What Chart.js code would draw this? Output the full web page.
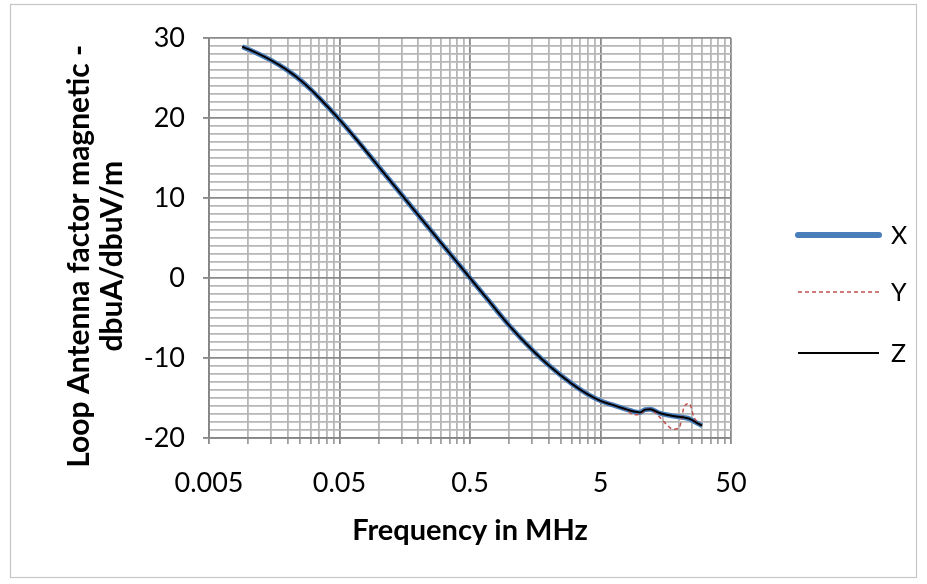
<!DOCTYPE html>
<html><head><meta charset="utf-8">
<script src="https://cdn.jsdelivr.net/npm/chart.js@4.4.0/dist/chart.umd.min.js"></script>
<style>html,body{margin:0;padding:0;background:#fff}#wrap{position:relative;width:927px;height:584px}</style>
</head><body><div id="wrap"><canvas id="c" width="927" height="584"></canvas></div>
<script>
// ---- data ----
const freqMHz = [0.009,0.01,0.015,0.02,0.025,0.03,0.035,0.05,0.07,0.1,0.15,0.2,0.3,0.5,0.7,1,1.5,2,3,4,5,6,7,8,9,10,11,12,14,16,18,20,22,24,26,28,30];
const seriesX = [28.9,28.6,27.2,25.95,24.75,23.6,22.5,19.8,17.0,13.9,10.4,7.9,4.4,0,-2.9,-5.95,-9.0,-10.9,-13.2,-14.55,-15.35,-15.8,-16.15,-16.45,-16.7,-16.8,-16.45,-16.4,-16.85,-17.1,-17.25,-17.35,-17.45,-17.6,-17.9,-18.2,-18.45];
const seriesY = [28.9,28.6,27.2,25.95,24.75,23.6,22.5,19.8,17.0,13.9,10.4,7.9,4.4,0,-2.9,-5.95,-9.0,-10.9,-13.2,-14.55,-15.35,-15.8,-16.15,-16.6,-17.1,-17.05,-16.5,-16.4,-17.3,-18.3,-18.9,-18.75,-16.0,-15.7,-17.4,-18.1,-18.45];
const seriesZ = [28.9,28.6,27.2,25.95,24.75,23.6,22.5,19.8,17.0,13.9,10.4,7.9,4.4,0,-2.9,-5.95,-9.0,-10.9,-13.2,-14.55,-15.35,-15.8,-16.15,-16.45,-16.7,-16.8,-16.45,-16.4,-16.85,-17.1,-17.25,-17.35,-17.45,-17.6,-17.9,-18.2,-18.45];
const seriesNames = ['X','Y','Z'];
const xMajorTicks = [0.005,0.05,0.5,5,50];
const xTickLabels = ['0.005','0.05','0.5','5','50'];
const yMajorTicks = [-20,-10,0,10,20,30];
const xTitle = 'Frequency in MHz';
const yTitle = ['Loop Antenna factor magnetic -','dbuA/dbuV/m'];

// ---- tick sets (major + minor) ----
const xTicks = [], xIsMajor = [], xLabel = [];
xMajorTicks.forEach((m,i)=>{
  xTicks.push(m); xIsMajor.push(true); xLabel.push(xTickLabels[i]);
  if(i<xMajorTicks.length-1){ for(let k=2;k<=9;k++){ xTicks.push(m*k); xIsMajor.push(false); xLabel.push(''); } }
});
const yTicks = [];
for(let v=yMajorTicks[0]; v<=yMajorTicks[yMajorTicks.length-1]; v++) yTicks.push(v);

const mk = arr => freqMHz.map((f,i)=>({x:f,y:arr[i]}));
const FONT = 'Lato';
const PAD = '     '; // shifts the centred vertical title slightly downward

const borderPlugin = {
  id:'frame',
  beforeDraw(chart){
    const c = chart.ctx; c.save();
    c.fillStyle='#fff'; c.fillRect(0,0,chart.width,chart.height);
    c.strokeStyle='#c6c6c6'; c.lineWidth=1.2; c.strokeRect(10.5,4.5,906,573);
    c.restore();
  }
};
const legendPlugin = {
  id:'sideLegend',
  afterDraw(chart){
    const c = chart.ctx; c.save();
    const rows=[235,292,353];
    chart.data.datasets.forEach((ds,i)=>{
      const y=rows[i];
      c.beginPath(); c.strokeStyle=ds.borderColor; c.lineWidth=i===0?6:ds.borderWidth;
      c.lineCap = i===0?'round':'butt';
      c.setLineDash(ds.borderDash||[]);
      c.moveTo(798,y); c.lineTo(879,y); c.stroke();
      c.setLineDash([]);
      c.fillStyle='#000'; c.font='25px '+FONT; c.textBaseline='middle'; c.textAlign='left';
      c.fillText(ds.label,891,y+1);
    });
    c.restore();
  }
};

new Chart(document.getElementById('c'),{
  type:'line',
  data:{datasets:[
    {label:seriesNames[0],data:mk(seriesX),borderColor:'#4A7EBB',borderWidth:5,pointRadius:0,cubicInterpolationMode:'monotone',order:3},
    {label:seriesNames[1],data:mk(seriesY),borderColor:'#C0504D',borderWidth:1.5,borderDash:[4,3],pointRadius:0,cubicInterpolationMode:'monotone',order:2},
    {label:seriesNames[2],data:mk(seriesZ),borderColor:'#000000',borderWidth:2,pointRadius:0,cubicInterpolationMode:'monotone',order:1}
  ]},
  options:{
    responsive:false, animation:false, devicePixelRatio:1,
    layout:{padding:{left:0,right:196,top:38,bottom:20}},
    plugins:{legend:{display:false},tooltip:{enabled:false}},
    scales:{
      x:{type:'logarithmic',min:0.005,max:50,
        afterBuildTicks:s=>{s.ticks=xTicks.map(v=>({value:v}));},
        afterFit:s=>{s.height=126;},
        ticks:{autoSkip:false,maxRotation:0,minRotation:0,padding:23,color:'#000',font:{family:FONT,size:27},
          callback:(v,i)=>xLabel[i]},
        grid:{color:c=>xIsMajor[c.index]?'#8a8a8a':'#b6b6b6',lineWidth:1.8,tickLength:6,
          tickColor:c=>xIsMajor[c.index]?'#8a8a8a':'#a0a0a0'},
        border:{color:'#868686',width:1.8},
        title:{display:true,text:xTitle,color:'#000',font:{family:FONT,size:29,weight:'bold'},padding:{top:0,bottom:16}}
      },
      y:{type:'linear',min:-20,max:30,
        afterBuildTicks:s=>{s.ticks=yTicks.map(v=>({value:v}));},
        afterFit:s=>{s.width=209;},
        ticks:{autoSkip:false,padding:18,color:'#000',font:{family:FONT,size:27},
          callback:v=>(v%10===0?String(v):'')},
        grid:{color:c=>(c.tick&&c.tick.value%10===0)?'#8a8a8a':'#b6b6b6',lineWidth:1.8,tickLength:6,
          tickColor:c=>(c.tick&&c.tick.value%10===0)?'#868686':'rgba(0,0,0,0)'},
        border:{color:'#868686',width:1.8},
        title:{display:true,text:yTitle.map(t=>t+PAD),color:'#000',font:{family:FONT,size:30,weight:'bold',lineHeight:1.1},padding:{top:63,bottom:0}}
      }
    }
  },
  plugins:[borderPlugin,legendPlugin]
});
</script></body></html>
